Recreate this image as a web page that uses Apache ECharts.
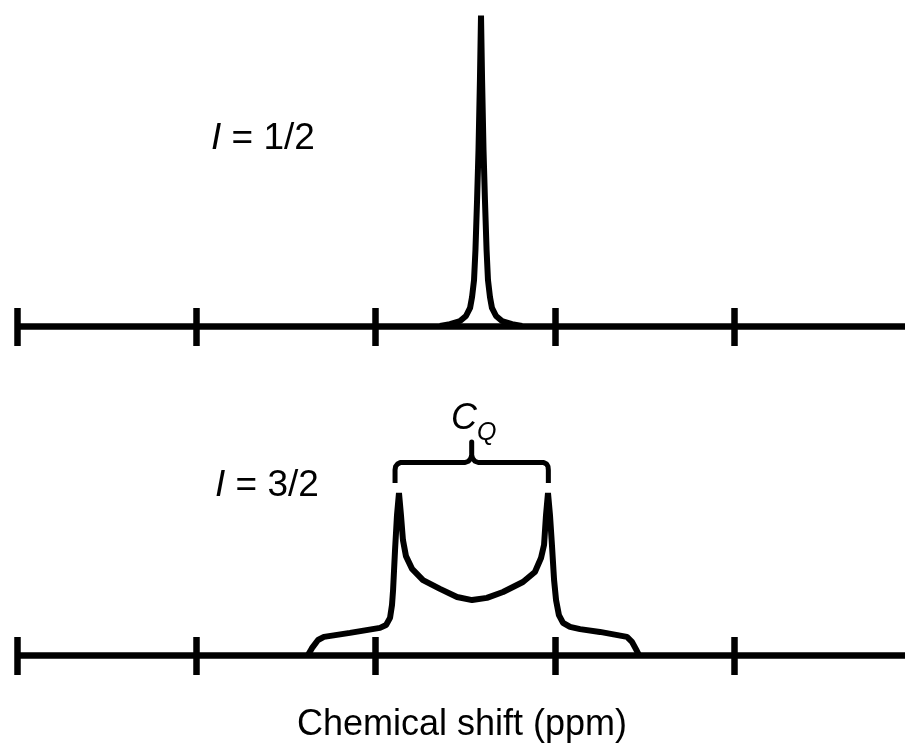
<!DOCTYPE html>
<html>
<head>
<meta charset="utf-8">
<script src="https://cdn.jsdelivr.net/npm/echarts@6/dist/echarts.min.js"></script>
<style>
  html, body { margin: 0; padding: 0; background: #fff; }
  #chart { width: 905px; height: 746px; }
</style>
</head>
<body>
<div id="chart"></div>
<script>
// Spin I = 1/2: single narrow resonance (shift in axis units, relative intensity)
const spinHalfShift = [2.359, 2.415, 2.471, 2.504, 2.527, 2.538, 2.549, 2.557, 2.566, 2.574, 2.582, 2.588,
  2.594, 2.602, 2.610, 2.619, 2.627, 2.638, 2.649, 2.672, 2.705, 2.761, 2.817];
const spinHalfIntensity = [0, 0.006, 0.016, 0.032, 0.058, 0.093, 0.147, 0.244, 0.404, 0.564, 0.788, 0.995,
  0.788, 0.564, 0.404, 0.244, 0.147, 0.093, 0.058, 0.032, 0.016, 0.006, 0];

// Spin I = 3/2: second-order quadrupolar powder pattern
const spinThreeHalvesShift = [1.622, 1.644, 1.678, 1.711, 1.856, 2.024, 2.058, 2.080, 2.091, 2.097, 2.108,
  2.119, 2.130, 2.141, 2.152, 2.169, 2.203, 2.264, 2.359, 2.454, 2.538, 2.621, 2.711, 2.822, 2.889, 2.923,
  2.940, 2.951, 2.962, 2.973, 2.984, 2.996, 3.007, 3.023, 3.046, 3.085, 3.141, 3.252, 3.403, 3.431, 3.453, 3.470];
const spinThreeHalvesIntensity = [0, 0.022, 0.048, 0.058, 0.071, 0.087, 0.096, 0.119, 0.160, 0.208, 0.337,
  0.449, 0.519, 0.449, 0.369, 0.317, 0.276, 0.240, 0.212, 0.186, 0.176, 0.183, 0.202, 0.234, 0.266, 0.311,
  0.353, 0.449, 0.519, 0.449, 0.353, 0.240, 0.176, 0.128, 0.103, 0.090, 0.083, 0.074, 0.058, 0.042, 0.019, 0];

// Curly brace spanning the two horns (C_Q)
const cqBraceShift = [2.108, 2.108, 2.111, 2.122, 2.138, 2.499, 2.518, 2.531, 2.536, 2.536,
  2.536, 2.541, 2.554, 2.573, 2.937, 2.954, 2.962, 2.964, 2.964];
const cqBraceHeight = [0.551, 0.593, 0.604, 0.612, 0.617, 0.617, 0.621, 0.630, 0.641, 0.683,
  0.641, 0.630, 0.621, 0.617, 0.617, 0.612, 0.604, 0.593, 0.551];

// Axis extent and tick spacing (axis units)
const shiftMin = 0;
const shiftMax = 5;
const shiftStep = 1;

const pairs = (xs, ys) => xs.map((x, i) => [x, ys[i]]);

const FONT = '"Liberation Sans", Arial, Helvetica, sans-serif';
const INK = '#000';

function shiftAxis(gridIndex, inside, len, showLine) {
  return {
    type: 'value', gridIndex, min: shiftMin, max: shiftMax, interval: shiftStep,
    position: 'bottom',
    axisLine: { show: showLine, onZero: false, lineStyle: { color: INK, width: 6.5, cap: 'butt' } },
    axisTick: { show: true, inside, length: len, lineStyle: { color: INK, width: 6.5 } },
    axisLabel: { show: false },
    splitLine: { show: false }
  };
}

function intensityAxis(gridIndex) {
  return { type: 'value', gridIndex, min: 0, max: 1, show: false, splitLine: { show: false } };
}

function trace(xIdx, yIdx, data, width, join) {
  return {
    type: 'line', xAxisIndex: xIdx, yAxisIndex: yIdx, data,
    symbol: 'none', showSymbol: false, clip: false, silent: true, z: 5,
    lineStyle: { color: INK, width, join: join || 'bevel', cap: 'butt' }
  };
}

const chart = echarts.init(document.getElementById('chart'), null, { renderer: 'canvas' });
chart.setOption({
  animation: false,
  backgroundColor: '#fff',
  grid: [
    { left: 17.5, width: 895.5, top: 14, height: 312, outerBoundsMode: 'none', containLabel: false },
    { left: 17.5, width: 895.5, top: 343, height: 312, outerBoundsMode: 'none', containLabel: false }
  ],
  xAxis: [
    shiftAxis(0, true, 18, true),
    shiftAxis(0, false, 20, false),
    shiftAxis(1, true, 18, true),
    shiftAxis(1, false, 20, false)
  ],
  yAxis: [intensityAxis(0), intensityAxis(1)],
  series: [
    trace(0, 0, pairs(spinHalfShift, spinHalfIntensity), 6),
    trace(2, 1, pairs(spinThreeHalvesShift, spinThreeHalvesIntensity), 6),
    trace(2, 1, pairs(cqBraceShift, cqBraceHeight), 5, 'round')
  ],
  graphic: [
    {
      type: 'text', x: 211, y: 139,
      style: {
        text: '{i|I} = 1/2', fill: INK, font: '37px ' + FONT, verticalAlign: 'middle', align: 'left',
        rich: { i: { fontStyle: 'italic', fontSize: 37, fontFamily: FONT } }
      }
    },
    {
      type: 'text', x: 215, y: 485.5,
      style: {
        text: '{i|I} = 3/2', fill: INK, font: '37px ' + FONT, verticalAlign: 'middle', align: 'left',
        rich: { i: { fontStyle: 'italic', fontSize: 37, fontFamily: FONT } }
      }
    },
    {
      type: 'text', x: 451, y: 418.5,
      style: { text: 'C', fill: INK, font: 'italic 36px ' + FONT, verticalAlign: 'middle', align: 'left' }
    },
    {
      type: 'text', x: 477, y: 433,
      style: { text: 'Q', fill: INK, font: 'italic 25px ' + FONT, verticalAlign: 'middle', align: 'left' }
    },
    {
      type: 'text', x: 462, y: 725.5,
      style: { text: 'Chemical shift (ppm)', fill: INK, font: '36px ' + FONT, verticalAlign: 'middle', align: 'center' }
    }
  ]
});
</script>
</body>
</html>
